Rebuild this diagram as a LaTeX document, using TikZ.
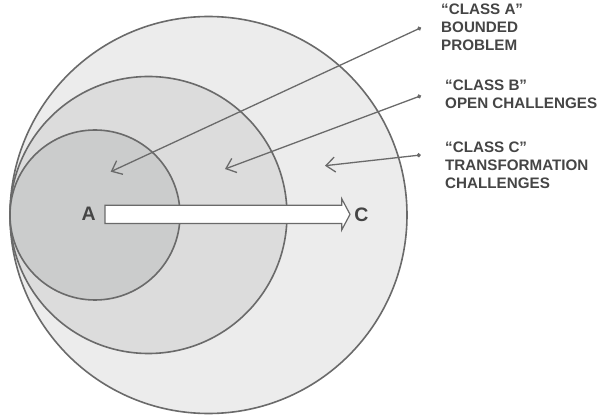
\documentclass[tikz,border=0pt]{standalone}
\usepackage{fontspec}
\setmainfont{Liberation Sans}
\usetikzlibrary{arrows.meta,shapes.arrows,calc}
\definecolor{ringline}{HTML}{6A6A6A}
\definecolor{fillC}{HTML}{ECECEC}
\definecolor{fillB}{HTML}{DCDCDC}
\definecolor{fillA}{HTML}{CBCCCC}
\definecolor{inkgray}{HTML}{454545}
\tikzset{
  ring/.style={circle,draw=ringline,line width=1.6pt,inner sep=0pt},
  tag/.style={font=\bfseries\fontsize{15.2}{18}\selectfont,text=inkgray,align=left,inner sep=0pt,anchor=north west},
  letter/.style={font=\bfseries\fontsize{19.5}{20}\selectfont,text=inkgray,inner sep=0pt},
  leader/.style={draw=ringline,line width=1.3pt,arrows={Circle[length=4pt]}-{Straight Barb[length=9pt,width=15pt]}},
  fatarrow/.style={single arrow,draw=ringline,line width=1.2pt,fill=white,inner xsep=0pt,inner ysep=8.5pt,
    single arrow head extend=6.5pt,single arrow tip angle=124}
}
\begin{document}
\begin{tikzpicture}[x=1pt,y=-1pt]
\useasboundingbox (0,0) rectangle (606,417);
% nested classes, touching at the left
\node[ring,fill=fillC,minimum size=397pt] (ringC) at (208.5,215) {};
\node[ring,fill=fillB,minimum size=277pt] (ringB) at (148.5,215) {};
\node[ring,fill=fillA,minimum size=170pt] (ringA) at (95,215) {};
% labels on the right
\node[tag] (tagA) at (441,4) {“CLASS A”\\BOUNDED\\PROBLEM};
\node[tag] (tagB) at (445,80) {“CLASS B”\\OPEN CHALLENGES};
\node[tag] (tagC) at (445,142) {“CLASS C”\\TRANSFORMATION\\CHALLENGES};
\coordinate (fromA) at (421,27.7);  \coordinate (toA) at (110.7,171.7);
\coordinate (fromB) at (421,95.7);  \coordinate (toB) at (225,169);
\coordinate (fromC) at (420.7,155); \coordinate (toC) at (325,165.7);
\foreach \A/\B in {fromA/toA,fromB/toB,fromC/toC}{\draw[leader] (\A) -- (\B);}
% A to C
\node[letter] (A) at (88.7,213.7) {A};
\node[letter] (C) at (361.5,215) {C};
\node[fatarrow,minimum height=245pt] (shift) at ($(A.east)!0.5!(C.west)$) {};
\end{tikzpicture}
\end{document}
